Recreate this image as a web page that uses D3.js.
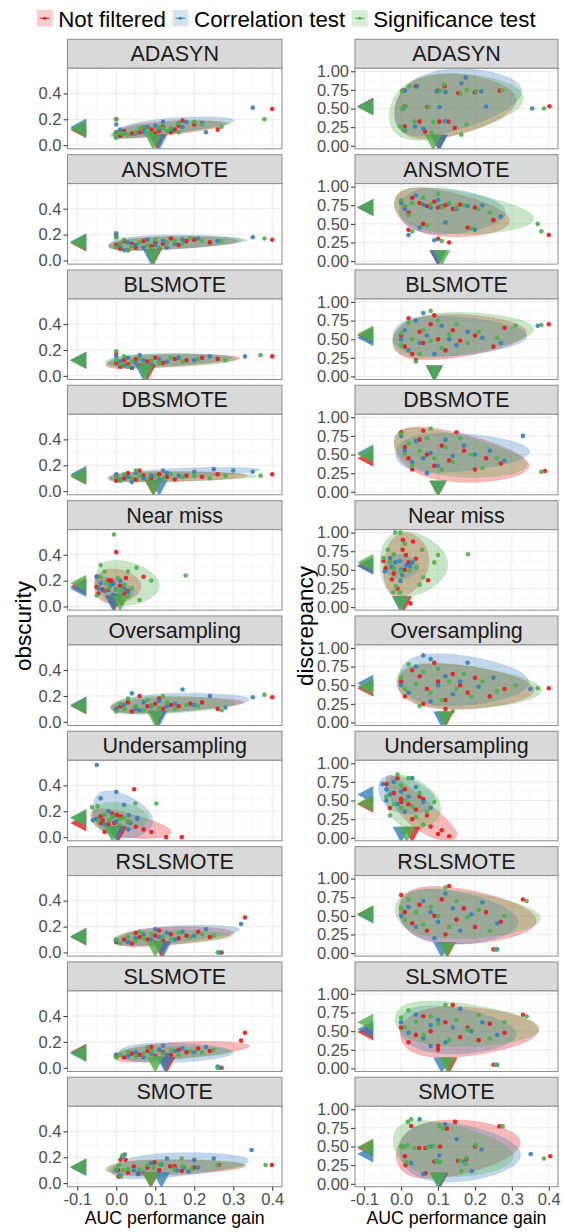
<!DOCTYPE html>
<html>
<head>
<meta charset="utf-8">
<script src="https://cdnjs.cloudflare.com/ajax/libs/d3/7.8.5/d3.min.js"></script>
<style>
body { margin: 0; background: #fff; }
text { font-family: "Liberation Sans", Arial, sans-serif; }
</style>
</head>
<body>
<script>
// categories
var methods = ["ADASYN", "ANSMOTE", "BLSMOTE", "DBSMOTE", "Near miss",
    "Oversampling", "Undersampling", "RSLSMOTE", "SLSMOTE", "SMOTE"];
var filters = ["Not filtered", "Correlation test", "Significance test"];
var colors = ["#E41A1C", "#377EB8", "#4DAF4A"];

// tick labels
var xTicks = [-0.1, 0, 0.1, 0.2, 0.3, 0.4];
var obscurityTicks = [0, 0.2, 0.4];
var discrepancyTicks = [0, 0.25, 0.5, 0.75, 1];

// points [AUC gain, value] per filter: not filtered, correlation test, significance test
var adasynObs = [
    [[0.0,0.2],[0.0,0.1],[0.01,0.07],[0.04,0.09],[0.06,0.1],[0.07,0.13],[0.1,0.1],[0.12,0.14],[0.14,0.1],[0.15,0.12],[0.16,0.15],[0.2,0.16],[0.26,0.12],[0.4,0.28],[0.02,0.11],[0.09,0.12],[0.11,0.11],[0.17,0.19]],
    [[0.0,0.16],[0.0,0.06],[0.01,0.12],[0.05,0.09],[0.08,0.14],[0.1,0.15],[0.12,0.18],[0.14,0.12],[0.16,0.17],[0.18,0.18],[0.22,0.17],[0.23,0.1],[0.35,0.29],[0.02,0.09],[0.07,0.1],[0.11,0.12],[0.17,0.14]],
    [[0.0,0.2],[0.0,0.1],[0.0,0.06],[0.01,0.09],[0.02,0.09],[0.03,0.08],[0.06,0.13],[0.08,0.1],[0.09,0.09],[0.1,0.12],[0.11,0.14],[0.12,0.13],[0.14,0.13],[0.16,0.17],[0.16,0.1],[0.2,0.18],[0.22,0.16],[0.27,0.14],[0.38,0.2],[0.05,0.1],[0.13,0.11],[0.07,0.14]]
];
var adasynDis = [
    [[0.118,0.8],[0.155,0.705],[0.267,0.74],[0.402,0.53],[0.01,0.53],[0.071,0.52],[0.104,0.325],[0.128,0.325],[0.05,0.325],[0.01,0.26],[0.065,0.19],[0.145,0.24],[0.005,0.74],[0.1,0.74],[0.2,0.72],[0.04,0.8]],
    [[0.175,0.915],[0.163,0.84],[0.043,0.8],[0.01,0.74],[0.096,0.73],[0.12,0.72],[0.217,0.73],[0.23,0.527],[0.355,0.5],[0.104,0.52],[0.119,0.33],[0.038,0.26],[0.01,0.21],[0.06,0.23],[0.005,0.5]],
    [[0.022,0.8],[0.002,0.73],[0.116,0.82],[0.106,0.74],[0.161,0.7],[0.178,0.75],[0.203,0.73],[0.274,0.745],[0.387,0.5],[0.002,0.5],[0.013,0.53],[0.074,0.52],[0.087,0.32],[0.036,0.325],[-0.003,0.26],[0.008,0.21],[0.082,0.18],[0.177,0.29],[0.163,0.15]]
];
var ansmoteObs = [
    [[0.0,0.19],[0.0,0.12],[0.01,0.09],[0.02,0.15],[0.04,0.13],[0.05,0.1],[0.07,0.15],[0.09,0.11],[0.1,0.14],[0.12,0.13],[0.14,0.17],[0.16,0.12],[0.18,0.15],[0.2,0.16],[0.24,0.14],[0.4,0.16],[0.03,0.08],[0.11,0.09]],
    [[0.0,0.21],[0.0,0.18],[0.01,0.11],[0.03,0.14],[0.05,0.12],[0.08,0.16],[0.1,0.12],[0.12,0.15],[0.15,0.13],[0.17,0.16],[0.21,0.17],[0.26,0.15],[0.35,0.18],[0.02,0.08],[0.07,0.1],[0.13,0.1]],
    [[0.0,0.18],[0.0,0.1],[0.01,0.13],[0.02,0.16],[0.04,0.11],[0.06,0.14],[0.08,0.12],[0.1,0.16],[0.11,0.1],[0.13,0.14],[0.15,0.15],[0.17,0.13],[0.19,0.17],[0.22,0.15],[0.27,0.15],[0.38,0.17],[0.03,0.08],[0.09,0.09]]
];
var ansmoteDis = [
    [[0.0,0.8],[0.01,0.72],[0.02,0.65],[0.03,0.85],[0.05,0.78],[0.07,0.74],[0.09,0.8],[0.1,0.72],[0.12,0.75],[0.14,0.7],[0.16,0.76],[0.2,0.72],[0.25,0.55],[0.02,0.42],[0.06,0.5],[0.1,0.3],[0.13,0.25],[0.18,0.45],[0.4,0.35]],
    [[0.0,0.78],[0.01,0.7],[0.02,0.35],[0.04,0.88],[0.06,0.76],[0.08,0.72],[0.1,0.82],[0.11,0.74],[0.13,0.77],[0.15,0.7],[0.18,0.74],[0.22,0.75],[0.27,0.6],[0.05,0.45],[0.09,0.28],[0.12,0.52],[0.2,0.42]],
    [[0.0,0.82],[0.01,0.74],[0.02,0.62],[0.03,0.78],[0.06,0.85],[0.08,0.76],[0.1,0.9],[0.11,0.72],[0.13,0.78],[0.15,0.72],[0.17,0.75],[0.21,0.7],[0.24,0.65],[0.03,0.4],[0.07,0.48],[0.11,0.27],[0.19,0.44],[0.37,0.5],[0.38,0.4]]
];
var blsmoteObs = [
    [[0.0,0.17],[0.0,0.1],[0.01,0.07],[0.02,0.12],[0.03,0.09],[0.05,0.13],[0.06,0.08],[0.08,0.11],[0.1,0.14],[0.12,0.1],[0.15,0.13],[0.18,0.12],[0.22,0.14],[0.26,0.13],[0.4,0.15],[0.04,0.06],[0.09,0.07]],
    [[0.0,0.15],[0.01,0.11],[0.02,0.08],[0.03,0.14],[0.05,0.1],[0.07,0.12],[0.09,0.09],[0.11,0.13],[0.13,0.11],[0.16,0.14],[0.2,0.12],[0.24,0.15],[0.33,0.15],[0.04,0.06],[0.06,0.16]],
    [[0.0,0.19],[0.0,0.12],[0.01,0.09],[0.02,0.15],[0.04,0.11],[0.06,0.13],[0.07,0.09],[0.09,0.12],[0.11,0.1],[0.14,0.14],[0.17,0.11],[0.21,0.13],[0.28,0.12],[0.37,0.16],[0.03,0.07],[0.08,0.06]]
];
var blsmoteDis = [
    [[0.0,0.55],[0.01,0.4],[0.02,0.78],[0.03,0.3],[0.05,0.6],[0.06,0.45],[0.08,0.7],[0.1,0.5],[0.12,0.35],[0.14,0.62],[0.16,0.48],[0.2,0.55],[0.25,0.4],[0.28,0.65],[0.4,0.7],[0.04,0.22],[0.09,0.82]],
    [[0.0,0.5],[0.01,0.62],[0.02,0.35],[0.04,0.75],[0.05,0.45],[0.07,0.55],[0.09,0.3],[0.11,0.68],[0.13,0.5],[0.15,0.42],[0.18,0.6],[0.22,0.52],[0.27,0.45],[0.37,0.68],[0.06,0.85]],
    [[0.0,0.58],[0.0,0.42],[0.02,0.72],[0.03,0.5],[0.05,0.3],[0.06,0.62],[0.08,0.48],[0.1,0.75],[0.11,0.38],[0.13,0.56],[0.15,0.7],[0.18,0.45],[0.21,0.6],[0.26,0.52],[0.31,0.68],[0.38,0.69],[0.04,0.2],[0.08,0.88]]
];
var dbsmoteObs = [
    [[0.0,0.12],[0.0,0.08],[0.02,0.1],[0.03,0.14],[0.05,0.09],[0.07,0.12],[0.09,0.1],[0.11,0.13],[0.13,0.11],[0.15,0.09],[0.18,0.12],[0.22,0.11],[0.26,0.13],[0.4,0.13],[0.06,0.16],[0.1,0.07]],
    [[0.0,0.13],[0.01,0.09],[0.03,0.11],[0.05,0.14],[0.07,0.1],[0.09,0.12],[0.11,0.09],[0.13,0.14],[0.16,0.12],[0.2,0.15],[0.25,0.17],[0.3,0.16],[0.35,0.15],[0.04,0.07],[0.12,0.16]],
    [[0.0,0.11],[0.01,0.08],[0.02,0.13],[0.04,0.1],[0.06,0.12],[0.08,0.09],[0.1,0.12],[0.12,0.1],[0.14,0.13],[0.17,0.11],[0.2,0.12],[0.24,0.1],[0.28,0.12],[0.37,0.12],[0.05,0.16],[0.09,0.07]]
];
var dbsmoteDis = [
    [[0.0,0.8],[0.01,0.6],[0.02,0.45],[0.03,0.3],[0.05,0.7],[0.07,0.5],[0.09,0.35],[0.1,0.1],[0.11,0.62],[0.13,0.42],[0.15,0.8],[0.17,0.55],[0.2,0.3],[0.23,0.45],[0.27,0.38],[0.39,0.28],[0.06,0.82]],
    [[0.0,0.75],[0.01,0.55],[0.03,0.4],[0.04,0.68],[0.06,0.45],[0.08,0.52],[0.1,0.35],[0.12,0.7],[0.14,0.48],[0.17,0.62],[0.2,0.5],[0.24,0.55],[0.28,0.42],[0.33,0.75],[0.07,0.25]],
    [[0.0,0.78],[0.01,0.5],[0.02,0.65],[0.03,0.35],[0.05,0.55],[0.07,0.72],[0.09,0.45],[0.11,0.3],[0.12,0.6],[0.14,0.4],[0.16,0.72],[0.19,0.5],[0.22,0.32],[0.26,0.45],[0.38,0.27],[0.08,0.85]]
];
var nearMissObs = [
    [[0.0,0.42],[0.07,0.23],[-0.05,0.23],[-0.02,0.2],[-0.013,0.2],[0.025,0.22],[-0.05,0.15],[-0.035,0.13],[-0.02,0.13],[0.01,0.16],[0.02,0.1],[-0.046,0.1],[0.014,0.03],[-0.01,0.18],[0.03,0.12],[0.005,0.07]],
    [[-0.05,0.23],[-0.008,0.175],[-0.04,0.18],[0.0,0.085],[-0.008,0.09],[0.02,0.14],[-0.03,0.12],[0.01,0.2],[-0.015,0.16],[0.03,0.11],[0.0,0.13],[-0.045,0.14]],
    [[-0.006,0.556],[-0.04,0.32],[0.052,0.3],[0.178,0.24],[-0.04,0.23],[0.004,0.22],[-0.018,0.14],[0.0,0.13],[0.02,0.17],[0.012,0.12],[-0.05,0.085],[0.031,0.08],[-0.025,0.18],[0.01,0.1],[0.04,0.14],[0.06,0.05],[0.03,0.27],[-0.03,0.27],[0.09,0.2]]
];
var nearMissDis = [
    [[0.005,0.9],[0.032,0.88],[0.004,0.77],[0.013,0.7],[-0.048,0.62],[-0.042,0.52],[0.009,0.5],[-0.025,0.37],[0.073,0.36],[-0.01,0.25],[0.025,0.05],[0.02,0.6],[-0.02,0.45],[0.04,0.65]],
    [[-0.016,0.6],[-0.004,0.62],[-0.026,0.54],[0.014,0.56],[0.024,0.55],[-0.044,0.48],[0.003,0.43],[-0.002,0.35],[-0.03,0.66],[0.03,0.6],[0.0,0.5]],
    [[-0.016,1.0],[-0.002,1.0],[0.01,0.85],[0.057,0.77],[-0.036,0.77],[-0.02,0.71],[0.181,0.71],[-0.048,0.66],[-0.03,0.6],[-0.02,0.52],[0.041,0.53],[0.0,0.48],[0.022,0.49],[-0.014,0.28],[-0.022,0.2],[-0.004,0.2],[0.06,0.4],[0.09,0.6],[0.1,0.7],[0.05,0.3]]
];
var oversamplingObs = [
    [[0.0,0.09],[0.01,0.12],[0.03,0.15],[0.04,0.08],[0.06,0.2],[0.08,0.12],[0.1,0.14],[0.12,0.1],[0.14,0.13],[0.16,0.12],[0.19,0.14],[0.22,0.15],[0.26,0.1],[0.4,0.19],[0.05,0.11],[0.11,0.18]],
    [[0.0,0.1],[0.02,0.13],[0.04,0.22],[0.05,0.1],[0.07,0.15],[0.09,0.12],[0.11,0.16],[0.13,0.12],[0.15,0.14],[0.17,0.25],[0.2,0.13],[0.24,0.2],[0.28,0.11],[0.35,0.19],[0.06,0.09]],
    [[0.0,0.08],[0.01,0.14],[0.02,0.1],[0.03,0.18],[0.05,0.12],[0.07,0.09],[0.09,0.13],[0.11,0.11],[0.13,0.15],[0.15,0.1],[0.18,0.13],[0.21,0.12],[0.27,0.09],[0.38,0.21],[0.08,0.17],[0.12,0.2]]
];
var oversamplingDis = [
    [[0.0,0.55],[0.01,0.35],[0.03,0.7],[0.05,0.62],[0.07,0.45],[0.09,0.8],[0.1,0.55],[0.12,0.3],[0.14,0.65],[0.16,0.5],[0.18,0.4],[0.2,0.6],[0.24,0.35],[0.28,0.45],[0.4,0.46],[0.12,0.18],[0.06,0.25]],
    [[0.0,0.5],[0.02,0.4],[0.04,0.75],[0.06,0.9],[0.08,0.85],[0.1,0.5],[0.12,0.62],[0.14,0.38],[0.16,0.55],[0.18,0.8],[0.21,0.48],[0.25,0.6],[0.35,0.45],[0.08,0.28]],
    [[0.0,0.6],[0.01,0.45],[0.02,0.78],[0.04,0.52],[0.06,0.68],[0.08,0.4],[0.1,0.72],[0.11,0.3],[0.13,0.55],[0.15,0.45],[0.17,0.65],[0.19,0.35],[0.22,0.55],[0.26,0.42],[0.31,0.5],[0.37,0.46],[0.14,0.15],[0.05,0.22]]
];
var undersamplingObs = [
    [[0.046,0.37],[-0.04,0.16],[-0.01,0.18],[-0.035,0.13],[-0.04,0.11],[-0.02,0.1],[0.002,0.17],[0.012,0.16],[-0.005,0.11],[0.01,0.06],[-0.03,0.04],[0.128,0.0],[0.168,0.0],[0.03,0.12],[-0.05,0.14],[0.07,0.06],[0.09,0.04],[0.05,0.08]],
    [[-0.05,0.557],[-0.06,0.13],[-0.05,0.14],[0.032,0.17],[0.054,0.15],[0.036,0.11],[0.031,0.06],[-0.02,0.2],[0.054,0.14],[-0.01,0.16],[0.0,0.12],[-0.03,0.1],[-0.04,0.3],[0.0,0.35],[0.02,0.25]],
    [[0.103,0.26],[0.049,0.26],[-0.062,0.23],[-0.048,0.24],[-0.045,0.13],[-0.01,0.16],[-0.018,0.13],[0.008,0.14],[0.008,0.09],[-0.01,0.03],[0.02,0.15],[-0.03,0.17],[0.03,0.12]]
];
var undersamplingDis = [
    [[-0.04,0.72],[-0.02,0.6],[0.0,0.52],[0.02,0.45],[0.04,0.38],[-0.03,0.4],[0.01,0.65],[0.05,0.55],[0.03,0.25],[0.07,0.3],[0.1,0.05],[0.13,0.02],[-0.01,0.8],[0.06,0.52],[0.0,0.48],[0.08,0.15],[0.11,0.1]],
    [[-0.05,0.72],[-0.04,0.65],[-0.03,0.58],[-0.02,0.75],[0.0,0.62],[0.02,0.55],[0.04,0.68],[0.06,0.48],[-0.01,0.45],[0.03,0.8],[0.08,0.4],[-0.04,0.5],[0.01,0.35]],
    [[-0.04,0.55],[-0.02,0.45],[0.0,0.7],[0.01,0.5],[0.03,0.42],[0.05,0.6],[0.07,0.35],[-0.01,0.85],[0.02,0.8],[0.04,0.28],[0.09,0.48],[-0.03,0.3],[0.06,0.18],[0.0,0.4]]
];
var rslsmoteObs = [
    [[0.0,0.08],[0.02,0.1],[0.04,0.07],[0.06,0.12],[0.08,0.1],[0.1,0.13],[0.12,0.09],[0.14,0.14],[0.16,0.11],[0.18,0.13],[0.21,0.16],[0.24,0.12],[0.33,0.27],[0.27,0.0],[0.05,0.15],[0.11,0.17]],
    [[0.0,0.09],[0.03,0.08],[0.05,0.11],[0.07,0.14],[0.09,0.1],[0.11,0.12],[0.13,0.15],[0.15,0.1],[0.17,0.16],[0.2,0.13],[0.23,0.18],[0.32,0.22],[0.265,0.0],[0.1,0.18]],
    [[0.0,0.1],[0.01,0.07],[0.03,0.12],[0.05,0.09],[0.07,0.11],[0.09,0.14],[0.1,0.08],[0.12,0.12],[0.14,0.1],[0.16,0.15],[0.19,0.12],[0.22,0.14],[0.25,0.13],[0.26,0.0],[0.06,0.16]]
];
var rslsmoteDis = [
    [[0.0,0.78],[0.01,0.55],[0.03,0.4],[0.05,0.65],[0.07,0.3],[0.09,0.5],[0.11,0.72],[0.13,0.9],[0.15,0.45],[0.17,0.6],[0.2,0.35],[0.23,0.55],[0.27,0.42],[0.33,0.72],[0.25,0.05],[0.12,0.25]],
    [[0.0,0.5],[0.02,0.62],[0.04,0.35],[0.06,0.7],[0.08,0.55],[0.1,0.42],[0.12,0.8],[0.14,0.6],[0.16,0.3],[0.19,0.52],[0.22,0.68],[0.26,0.4],[0.26,0.05],[0.09,0.2]],
    [[0.0,0.6],[0.01,0.45],[0.02,0.72],[0.04,0.55],[0.06,0.38],[0.08,0.62],[0.1,0.5],[0.12,0.88],[0.13,0.35],[0.15,0.7],[0.18,0.48],[0.21,0.58],[0.24,0.3],[0.28,0.5],[0.34,0.7],[0.255,0.05]]
];
var slsmoteObs = [
    [[0.0,0.09],[0.02,0.08],[0.04,0.11],[0.06,0.1],[0.08,0.13],[0.1,0.09],[0.12,0.12],[0.14,0.1],[0.16,0.14],[0.18,0.12],[0.21,0.15],[0.24,0.13],[0.33,0.27],[0.32,0.21],[0.27,0.0],[0.09,0.16]],
    [[0.0,0.1],[0.03,0.09],[0.05,0.12],[0.07,0.08],[0.09,0.11],[0.11,0.14],[0.13,0.1],[0.15,0.13],[0.17,0.15],[0.2,0.12],[0.23,0.16],[0.265,0.0],[0.26,0.01],[0.12,0.17]],
    [[0.0,0.08],[0.01,0.1],[0.03,0.12],[0.05,0.09],[0.07,0.11],[0.09,0.13],[0.1,0.08],[0.12,0.11],[0.14,0.14],[0.16,0.1],[0.19,0.13],[0.22,0.12],[0.25,0.14],[0.26,0.0],[0.08,0.16]]
];
var slsmoteDis = [
    [[0.0,0.55],[0.02,0.35],[0.04,0.45],[0.06,0.7],[0.08,0.5],[0.1,0.3],[0.12,0.62],[0.14,0.85],[0.16,0.42],[0.18,0.55],[0.21,0.38],[0.24,0.6],[0.28,0.48],[0.33,0.72],[0.25,0.05],[0.1,0.25]],
    [[0.0,0.62],[0.02,0.48],[0.04,0.72],[0.06,0.4],[0.08,0.58],[0.1,0.65],[0.12,0.35],[0.14,0.55],[0.16,0.8],[0.19,0.5],[0.22,0.62],[0.26,0.45],[0.26,0.05],[0.08,0.3]],
    [[0.0,0.68],[0.01,0.55],[0.02,0.78],[0.04,0.62],[0.06,0.45],[0.08,0.7],[0.1,0.6],[0.12,0.85],[0.13,0.38],[0.15,0.65],[0.18,0.52],[0.21,0.72],[0.24,0.4],[0.28,0.62],[0.34,0.7],[0.255,0.05]]
];
var smoteObs = [
    [[0.399,0.14],[0.011,0.18],[0.024,0.18],[0.005,0.1],[0.03,0.08],[0.057,0.075],[0.098,0.16],[0.138,0.13],[0.15,0.13],[0.168,0.095],[0.263,0.14],[0.006,0.05],[0.08,0.12],[0.11,0.1],[0.2,0.12],[0.045,0.13]],
    [[0.347,0.256],[0.022,0.22],[0.0,0.1],[0.045,0.1],[0.055,0.07],[0.089,0.155],[0.116,0.145],[0.155,0.1],[0.173,0.12],[0.185,0.09],[0.21,0.12],[0.01,0.06],[0.07,0.08],[0.015,0.2],[0.13,0.19],[0.25,0.19],[0.2,0.18]],
    [[0.383,0.14],[0.016,0.215],[0.007,0.14],[0.0,0.11],[0.018,0.1],[0.03,0.11],[0.06,0.105],[0.08,0.14],[0.096,0.12],[0.111,0.145],[0.148,0.11],[0.168,0.19],[0.17,0.13],[0.193,0.11],[0.26,0.14],[0.012,0.05]]
];
var smoteDis = [
    [[0.027,0.775],[0.124,0.74],[0.146,0.83],[0.266,0.77],[0.01,0.37],[0.049,0.48],[0.066,0.48],[0.105,0.5],[0.012,0.25],[0.177,0.33],[0.154,0.31],[0.404,0.37],[0.066,0.14],[0.2,0.5],[0.09,0.3]],
    [[0.05,0.865],[0.119,0.8],[0.104,0.38],[0.027,0.28],[0.218,0.46],[0.191,0.17],[0.351,0.4],[0.06,0.13],[0.0,0.5],[0.08,0.5],[0.15,0.6],[0.1,0.3],[0.17,0.3]],
    [[0.027,0.865],[0.018,0.83],[0.104,0.78],[0.113,0.74],[0.275,0.77],[0.002,0.5],[0.01,0.5],[0.018,0.52],[0.036,0.48],[0.071,0.49],[0.087,0.51],[0.095,0.31],[0.105,0.29],[0.014,0.29],[0.202,0.52],[0.178,0.35],[0.159,0.31],[0.175,0.27],[0.163,0.17],[0.387,0.34]]
];

var obscurityData = [adasynObs, ansmoteObs, blsmoteObs, dbsmoteObs, nearMissObs,
    oversamplingObs, undersamplingObs, rslsmoteObs, slsmoteObs, smoteObs];
var discrepancyData = [adasynDis, ansmoteDis, blsmoteDis, dbsmoteDis, nearMissDis,
    oversamplingDis, undersamplingDis, rslsmoteDis, slsmoteDis, smoteDis];

var width = 563, height = 1232;
var svg = d3.select("body").append("svg")
    .attr("width", width)
    .attr("height", height);
var defs = svg.append("defs");

// layout
var rowTop0 = 39.3, rowStep = 115.33, stripH = 29, plotH = 80.5;
var columns = [
    { x0: 67.5, x1: 282, data: obscurityData, ticks: obscurityTicks, domain: [-0.028, 0.594],
      fmt: d3.format(".1f"), title: "obscurity", titleX: 31 },
    { x0: 355, x1: 558, data: discrepancyData, ticks: discrepancyTicks, domain: [-0.04, 1.04],
      fmt: d3.format(".2f"), title: "discrepancy", titleX: 313 }
];

var xMinor = d3.pairs(xTicks).map(p => (p[0] + p[1]) / 2);

// robust (t) ellipse, fitted on log-shifted gain
var shift = 0.15;
var ellipseLevel = 0.84;
function tEllipse(pts, level) {
    var P = pts.map(d => [Math.log(d[0] + shift), d[1]]);
    var n = P.length, nu = 5, w = P.map(() => 1), m, S;
    for (var it = 0; it < 50; it++) {
        var sw = d3.sum(w);
        m = [d3.sum(P, (p, i) => w[i] * p[0]) / sw, d3.sum(P, (p, i) => w[i] * p[1]) / sw];
        var a = 0, b = 0, c = 0;
        P.forEach((p, i) => {
            var dx = p[0] - m[0], dy = p[1] - m[1];
            a += w[i] * dx * dx; b += w[i] * dx * dy; c += w[i] * dy * dy;
        });
        a /= n; b /= n; c /= n;
        var det = a * c - b * b;
        w = P.map(p => {
            var dx = p[0] - m[0], dy = p[1] - m[1];
            var q = (c * dx * dx - 2 * b * dx * dy + a * dy * dy) / det;
            return (nu + 2) / (nu + q);
        });
        S = [a, b, c];
    }
    var dfd = n - 1;
    var r = Math.sqrt(2 * (dfd / 2) * (Math.pow(1 - level, -2 / dfd) - 1));
    var l11 = Math.sqrt(S[0]), l21 = S[1] / l11, l22 = Math.sqrt(S[2] - l21 * l21);
    return d3.range(120).map(k => {
        var t = 2 * Math.PI * k / 120, ux = Math.cos(t), uy = Math.sin(t);
        return [Math.exp(m[0] + r * l11 * ux) - shift, m[1] + r * (l21 * ux + l22 * uy)];
    });
}

var font = "Liberation Sans, Arial, sans-serif";

columns.forEach(function(col, ci) {
    var xScale = d3.scaleLinear().domain([-0.125, 0.425]).range([col.x0, col.x1]);
    var yMinor = d3.pairs(col.ticks).map(p => (p[0] + p[1]) / 2);

    methods.forEach(function(method, ri) {
        var top = rowTop0 + ri * rowStep;
        var pTop = top + stripH, pBot = pTop + plotH;
        var yScale = d3.scaleLinear().domain(col.domain).range([pBot, pTop]);
        var g = svg.append("g");

        // strip
        g.append("rect")
            .attr("x", col.x0).attr("y", top)
            .attr("width", col.x1 - col.x0).attr("height", stripH)
            .attr("fill", "#D9D9D9").attr("stroke", "#8a8a8a").attr("stroke-width", 1);
        g.append("text")
            .attr("x", (col.x0 + col.x1) / 2).attr("y", top + stripH / 2 + 7.5)
            .attr("text-anchor", "middle")
            .attr("font-size", "21.5px").attr("fill", "#1A1A1A")
            .text(method);

        // grid
        g.append("rect").attr("x", col.x0).attr("y", pTop)
            .attr("width", col.x1 - col.x0).attr("height", plotH).attr("fill", "#fff");
        g.selectAll(".xmin").data(xMinor).enter().append("line")
            .attr("x1", d => xScale(d)).attr("x2", d => xScale(d))
            .attr("y1", pTop).attr("y2", pBot)
            .attr("stroke", "#F4F4F4").attr("stroke-width", 0.6);
        g.selectAll(".ymin").data(yMinor).enter().append("line")
            .attr("x1", col.x0).attr("x2", col.x1)
            .attr("y1", d => yScale(d)).attr("y2", d => yScale(d))
            .attr("stroke", "#F4F4F4").attr("stroke-width", 0.6);
        g.selectAll(".xmaj").data(xTicks).enter().append("line")
            .attr("x1", d => xScale(d)).attr("x2", d => xScale(d))
            .attr("y1", pTop).attr("y2", pBot)
            .attr("stroke", "#EBEBEB").attr("stroke-width", 1);
        g.selectAll(".ymaj").data(col.ticks).enter().append("line")
            .attr("x1", col.x0).attr("x2", col.x1)
            .attr("y1", d => yScale(d)).attr("y2", d => yScale(d))
            .attr("stroke", "#EBEBEB").attr("stroke-width", 1);

        var clipId = "clip" + ci + "_" + ri;
        defs.append("clipPath").attr("id", clipId).append("rect")
            .attr("x", col.x0).attr("y", pTop)
            .attr("width", col.x1 - col.x0).attr("height", plotH);
        var inner = g.append("g").attr("clip-path", "url(#" + clipId + ")");

        var series = col.data[ri];
        var line = d3.line().x(d => xScale(d[0])).y(d => yScale(d[1])).curve(d3.curveLinearClosed);

        // ellipses
        series.forEach(function(pts, si) {
            inner.append("path")
                .attr("d", line(tEllipse(pts, ellipseLevel)))
                .attr("fill", colors[si]).attr("fill-opacity", 0.3)
                .attr("stroke", colors[si]).attr("stroke-opacity", 0.25).attr("stroke-width", 0.6);
        });
        // points
        series.forEach(function(pts, si) {
            inner.selectAll(".pt" + si).data(pts).enter().append("circle")
                .attr("cx", d => xScale(d[0])).attr("cy", d => yScale(d[1]))
                .attr("r", 2.3).attr("fill", colors[si]).attr("fill-opacity", 0.9);
        });
        // median markers: left edge (value) and bottom edge (gain)
        series.forEach(function(pts, si) {
            var my = d3.median(pts, d => d[1]);
            var mx = d3.median(pts, d => d[0]);
            var lx = xScale(-0.1), ly = yScale(my);
            inner.append("path")
                .attr("d", "M" + (lx - 7) + "," + ly + "L" + (lx + 9) + "," + (ly - 8.5) + "L" + (lx + 9) + "," + (ly + 8.5) + "Z")
                .attr("fill", colors[si]).attr("fill-opacity", 0.8);
            var bx = xScale(mx), by = yScale(0);
            inner.append("path")
                .attr("d", "M" + (bx - 8.5) + "," + (by - 11) + "L" + (bx + 8.5) + "," + (by - 11) + "L" + bx + "," + (by + 5) + "Z")
                .attr("fill", colors[si]).attr("fill-opacity", 0.8);
        });

        // panel border
        g.append("rect").attr("x", col.x0).attr("y", pTop)
            .attr("width", col.x1 - col.x0).attr("height", plotH)
            .attr("fill", "none").attr("stroke", "#8a8a8a").attr("stroke-width", 1);

        // y axis
        var yAxis = d3.axisLeft(yScale).tickValues(col.ticks).tickFormat(col.fmt).tickSize(4).tickPadding(2);
        var ya = g.append("g").attr("transform", "translate(" + col.x0 + ",0)").call(yAxis);
        ya.select(".domain").remove();
        ya.selectAll("line").attr("stroke", "#333");
        ya.selectAll("text").attr("font-size", "16.5px").attr("fill", "#4D4D4D").attr("font-family", font);

        // x axis on the last row
        if (ri === methods.length - 1) {
            var xAxis = d3.axisBottom(xScale).tickValues(xTicks).tickFormat(d3.format(".1f")).tickSize(4).tickPadding(3);
            var xa = g.append("g").attr("transform", "translate(0," + pBot + ")").call(xAxis);
            xa.select(".domain").remove();
            xa.selectAll("line").attr("stroke", "#333");
            xa.selectAll("text").attr("font-size", "16.5px").attr("fill", "#4D4D4D").attr("font-family", font)
                .text(d => d3.format(".1f")(d).replace("−", "-"));
            svg.append("text")
                .attr("x", (col.x0 + col.x1) / 2).attr("y", pBot + 37.5)
                .attr("text-anchor", "middle").attr("font-size", "17.7px").attr("fill", "#000")
                .text("AUC performance gain");
        }
    });

    svg.append("text")
        .attr("transform", "translate(" + col.titleX + ",626) rotate(-90)")
        .attr("text-anchor", "middle").attr("font-size", "22.5px").attr("fill", "#000")
        .text(col.title);
});

// legend
var legend = svg.append("g");
var lx = 36.7;
filters.forEach(function(f, i) {
    var item = legend.append("g").attr("transform", "translate(" + lx + ",10)");
    item.append("rect").attr("width", 16).attr("height", 16.5)
        .attr("fill", colors[i]).attr("fill-opacity", 0.22);
    item.append("line").attr("x1", 3).attr("x2", 13).attr("y1", 8.25).attr("y2", 8.25)
        .attr("stroke", colors[i]).attr("stroke-width", 1);
    item.append("circle").attr("cx", 8).attr("cy", 8.25).attr("r", 1.6).attr("fill", colors[i]);
    var t = item.append("text").attr("x", 21.5).attr("y", 17)
        .attr("font-size", "22.3px").attr("fill", "#000").text(f);
    lx += 21.5 + t.node().getComputedTextLength() + 6.5;
});
</script>
</body>
</html>
